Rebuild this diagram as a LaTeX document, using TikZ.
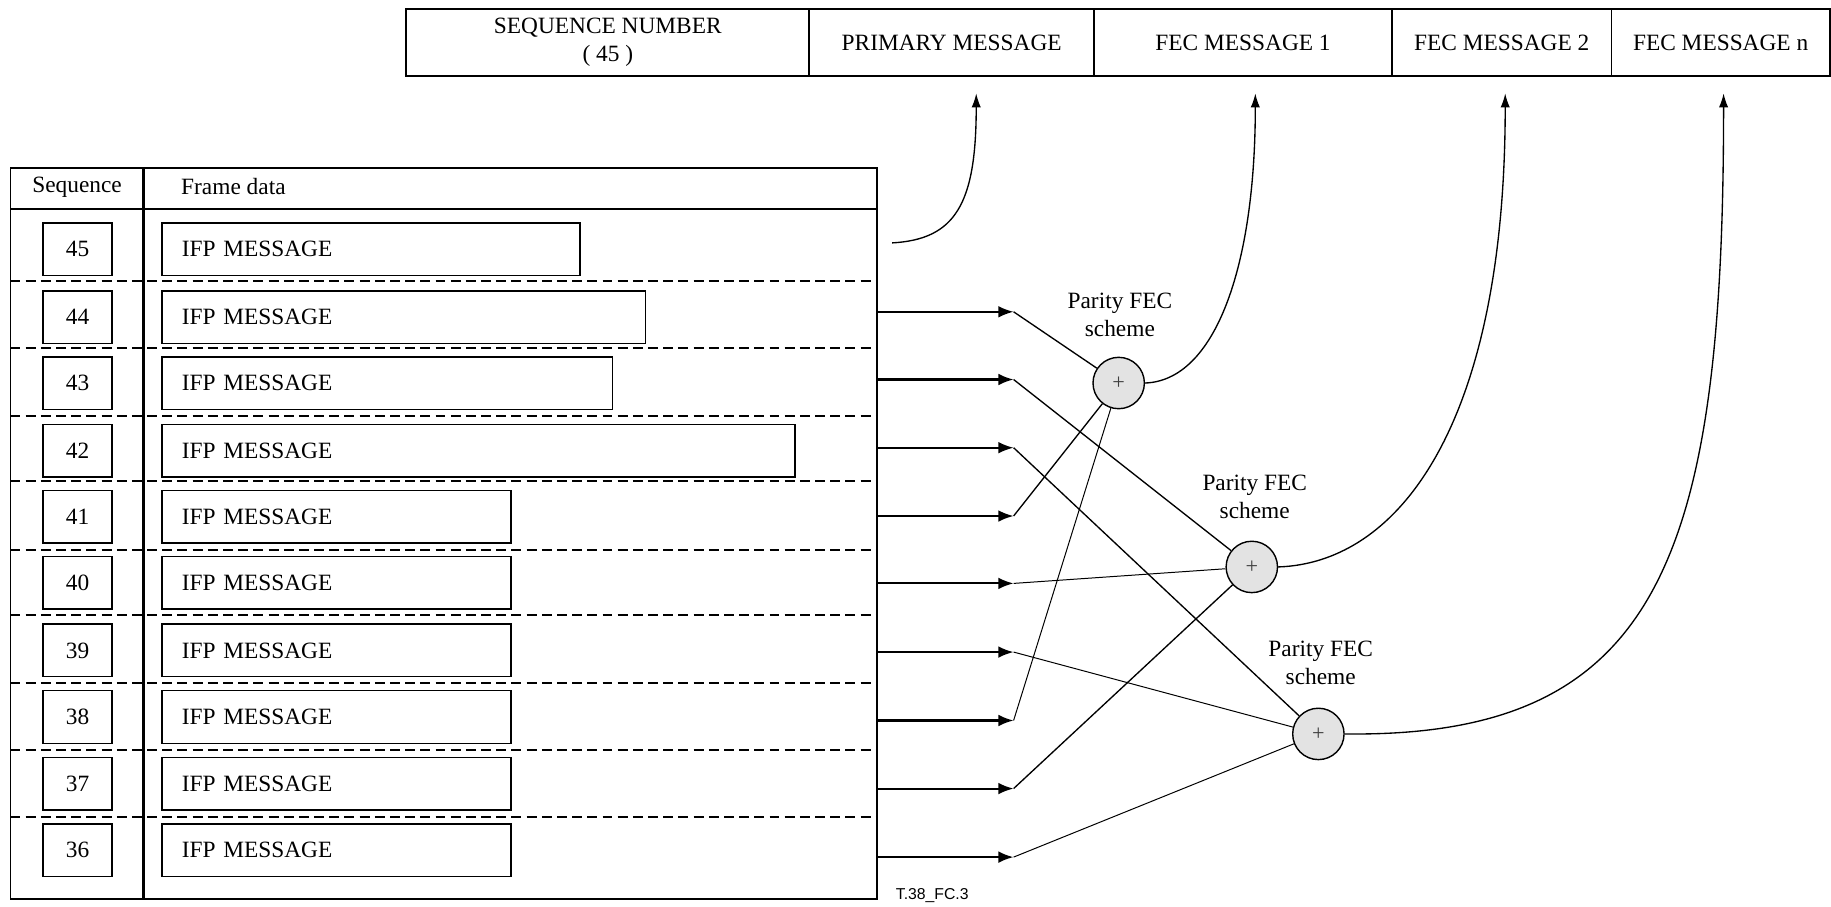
\documentclass[tikz,border=0pt]{standalone}
\usepackage{fontspec}
\setmainfont{Liberation Serif}
\newfontfamily\arialfont{Liberation Sans}
\usetikzlibrary{arrows.meta}
\begin{document}
\begin{tikzpicture}[x=1pt,y=-1pt,
  every node/.style={font=\fontsize{20}{24}\selectfont},
  topbox/.style={draw, line width=1.5pt, minimum height=57pt, inner sep=0pt, align=center},
  seqbox/.style={draw, line width=1.3pt, minimum width=59pt, minimum height=45pt, inner sep=0pt},
  msgbox/.style={draw, line width=1.3pt, minimum height=45pt, inner xsep=17pt, inner ysep=0pt, anchor=west, align=left},
  sum/.style={circle, draw, line width=1.2pt, fill=gray!22, minimum size=44pt, inner sep=0pt, text=black!75, font=\fontsize{19}{19}\selectfont},
  feed/.style={line width=1.8pt, -{Latex[length=13pt,width=10pt]}},
  link/.style={line width=1.15pt},
  thinlink/.style={line width=0.85pt},
  outcurve/.style={line width=1.15pt, -{Latex[length=12pt,width=8pt]}},
  sepline/.style={dash pattern=on 8.5pt off 4.5pt, line width=1.6pt},
  lbl/.style={align=center, font=\fontsize{20}{24}\selectfont}
]
\useasboundingbox (0,0) rectangle (1568,776);

% top message layout
\node[topbox, minimum width=345pt] (tsn) at (520.5,36.5) {SEQUENCE NUMBER\\( 45 )};
\node[topbox, minimum width=244pt] (tpm) at (815,36.5) {PRIMARY MESSAGE};
\node[topbox, minimum width=255pt] (tf1) at (1064.5,36.5) {FEC MESSAGE 1};
\node[topbox, minimum width=188pt] (tf2) at (1286,36.5) {FEC MESSAGE 2};
\node[topbox, minimum width=187pt] (tfn) at (1473.5,36.5) {FEC MESSAGE n};

\coordinate (p0) at (836,80);
\coordinate (f1) at (1075,80);
\coordinate (f2) at (1289,80);
\coordinate (fn) at (1476,80);

% table frame
\draw[line width=1.5pt] (9,144) rectangle (751,770);
\draw[line width=2.5pt] (9,179) -- (751,179);
\draw[line width=2pt] (123,144) -- (123,770);
\node (hseq) at (66,160) {Sequence};
\node[anchor=west, inner sep=0pt] (hfd) at (155,159.5) {Frame data};

\foreach \yy in {241,298,356,412,471,527,585,642,700}
  \draw[sepline] (9,\yy) -- (751,\yy);

% rows
\foreach \n/\y/\r in {45/213.5/496, 44/271.5/552, 43/328/524, 42/386/680, 41/442.5/437,
                      40/499/437, 39/557/437, 38/614/437, 37/671/437, 36/728/437}{
  \pgfmathsetmacro\w{\r-172}
  \node[seqbox] (s\n) at (66.5,\y) {\n};
  \node[msgbox, text width=\w pt] (m\n) at (138,\y) {IFP MESSAGE};
}

% feed arrows
\foreach \n/\y in {44/267, 43/325, 42/383.4, 41/441.9, 40/499.6, 39/558.4, 38/617, 37/675.3, 36/734}{
  \coordinate (e\n) at (751,\y);
  \coordinate (a\n) at (868,\y);
  \draw[feed] (e\n) -- (a\n);
}

% parity nodes
\node[sum] (c1) at (958,328) {+};
\node[sum] (c2) at (1072,485.5) {+};
\node[sum] (c3) at (1129,628.5) {+};
\node[lbl] (l1) at (959,269.5) {Parity FEC\\scheme};
\node[lbl] (l2) at (1074.5,425.5) {Parity FEC\\scheme};
\node[lbl] (l3) at (1131,568) {Parity FEC\\scheme};

% links to parity nodes
\draw[link] (a44) -- (c1);
\draw[link] (a41) -- (c1);
\draw[thinlink] (a38) -- (c1);
\draw[link] (a43) -- (c2);
\draw[thinlink] (a40) -- (c2);
\draw[link] (a37) -- (c2);
\draw[link] (a42) -- (c3);
\draw[thinlink] (a39) -- (c3);
\draw[thinlink] (a36) -- (c3);

% output curves
\coordinate (q45) at (764,208);
\draw[outcurve] (q45) .. controls (818,205) and (836,175) .. (p0);
\draw[outcurve] (c1.east) .. controls (1040,326) and (1075,230) .. (f1);
\draw[outcurve] (c2.east) .. controls (1200,482) and (1289,360) .. (f2);
\draw[outcurve] (c3.east) .. controls (1420,632) and (1476,480) .. (fn);

\node[anchor=west, inner sep=0pt, font=\arialfont\fontsize{13.5}{15}\selectfont] (fig) at (767,767) {T.38\_FC.3};
\end{tikzpicture}
\end{document}
